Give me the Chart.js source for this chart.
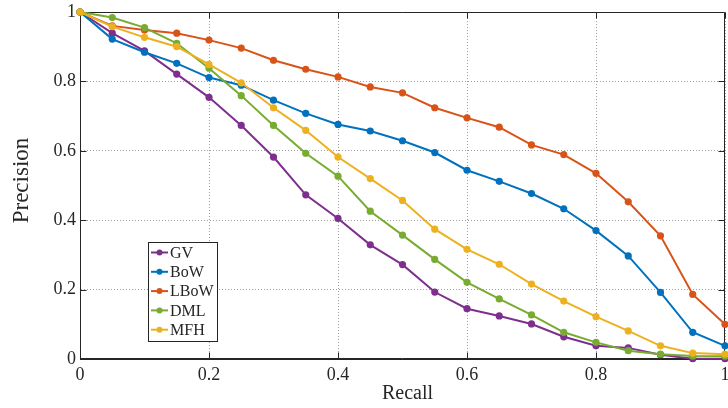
<!DOCTYPE html>
<html>
<head>
<meta charset="utf-8">
<script src="https://cdn.jsdelivr.net/npm/chart.js@4.4.1/dist/chart.umd.min.js"></script>
<style>
  html, body { margin: 0; padding: 0; background: #fff; overflow: hidden; }
  #wrap { position: relative; width: 745px; height: 408px; }
</style>
</head>
<body>
<div id="wrap"><canvas id="pr"></canvas></div>
<script>
// Recall sampling points and tick labels
const recall = [0, 0.05, 0.1, 0.15, 0.2, 0.25, 0.3, 0.35, 0.4, 0.45, 0.5,
                0.55, 0.6, 0.65, 0.7, 0.75, 0.8, 0.85, 0.9, 0.95, 1];
const recallTicks = ['0', '0.2', '0.4', '0.6', '0.8', '1'];
const precisionTicks = ['0', '0.2', '0.4', '0.6', '0.8', '1'];
const xTitle = 'Recall';
const yTitle = 'Precision';

// Precision per method
const seriesNames = ['GV', 'BoW', 'LBoW', 'DML', 'MFH'];
const gv   = [1, 0.939, 0.888, 0.821, 0.754, 0.673, 0.582, 0.473, 0.405, 0.329, 0.272,
              0.193, 0.145, 0.124, 0.101, 0.064, 0.038, 0.032, 0.012, 0.001, 0.001];
const bow  = [1, 0.922, 0.884, 0.852, 0.811, 0.789, 0.746, 0.708, 0.676, 0.657, 0.629,
              0.595, 0.544, 0.512, 0.477, 0.433, 0.370, 0.297, 0.192, 0.077, 0.038];
const lbow = [1, 0.960, 0.948, 0.939, 0.919, 0.896, 0.861, 0.835, 0.813, 0.784, 0.767,
              0.724, 0.695, 0.668, 0.617, 0.589, 0.535, 0.453, 0.355, 0.186, 0.100];
const dml  = [1, 0.984, 0.955, 0.910, 0.838, 0.759, 0.673, 0.593, 0.527, 0.426, 0.357,
              0.287, 0.221, 0.173, 0.127, 0.077, 0.048, 0.024, 0.014, 0.009, 0.008];
const mfh  = [1, 0.958, 0.927, 0.900, 0.849, 0.796, 0.724, 0.659, 0.582, 0.520, 0.457,
              0.374, 0.316, 0.273, 0.216, 0.167, 0.122, 0.081, 0.038, 0.017, 0.014];

const seriesValues = [gv, bow, lbow, dml, mfh];
const seriesColors = ['#7E2F8E', '#0072BD', '#D95319', '#77AC30', '#EDB120'];

const SERIF = "'Liberation Serif', 'Times New Roman', serif";
const AXIS = '#262626';

const datasets = seriesNames.map((name, i) => ({
  label: name,
  data: recall.map((r, k) => ({ x: r, y: seriesValues[i][k] })),
  borderColor: seriesColors[i],
  backgroundColor: seriesColors[i],
  pointBackgroundColor: seriesColors[i],
  pointBorderWidth: 0,
  pointRadius: 3.6,
  borderWidth: 2,
  tension: 0,
  clip: false,
  order: seriesNames.length - i
}));

// Box around the axes with inward tick marks on every side, plus axis titles
const axesFrame = {
  id: 'axesFrame',
  beforeDatasetsDraw(chart) {
    const { ctx, chartArea: a, scales: { x, y } } = chart;
    ctx.save();
    ctx.strokeStyle = AXIS;
    ctx.lineWidth = 1;
    const L = Math.round(a.left) + 0.5, R = Math.round(a.right) - 0.5;
    const T = Math.round(a.top) + 0.5, B = Math.round(a.bottom) - 0.5;
    ctx.beginPath();
    ctx.moveTo(L, T); ctx.lineTo(R, T); ctx.lineTo(R, B);
    ctx.moveTo(L, T); ctx.lineTo(L, B); ctx.lineTo(R, B);
    const len = 6;
    x.ticks.forEach(t => {
      const px = Math.round(x.getPixelForValue(t.value)) + 0.5;
      ctx.moveTo(px, B); ctx.lineTo(px, B - len);
      ctx.moveTo(px, T); ctx.lineTo(px, T + len);
    });
    y.ticks.forEach(t => {
      const py = Math.round(y.getPixelForValue(t.value)) + 0.5;
      ctx.moveTo(L, py); ctx.lineTo(L + len, py);
      ctx.moveTo(R, py); ctx.lineTo(R - len, py);
    });
    ctx.stroke();

    // axis titles
    ctx.fillStyle = AXIS;
    ctx.textAlign = 'center';
    ctx.textBaseline = 'alphabetic';
    ctx.font = '20px ' + SERIF;
    ctx.fillText(xTitle, (a.left + a.right) / 2 + 5, a.bottom + 40);
    ctx.save();
    ctx.translate(a.left - 52, (a.top + a.bottom) / 2 - 5);
    ctx.rotate(-Math.PI / 2);
    ctx.font = '23px ' + SERIF;
    ctx.fillText(yTitle, 0, 0);
    ctx.restore();
    ctx.restore();
  }
};

// Boxed legend inside the plot area
const boxLegend = {
  id: 'boxLegend',
  afterDatasetsDraw(chart) {
    const { ctx, chartArea: a } = chart;
    const left = a.left + 68, top = a.top + 230;
    const w = 69, rowH = 19.3, h = 99;
    ctx.save();
    ctx.fillStyle = '#fff';
    ctx.fillRect(left, top, w, h);
    ctx.strokeStyle = AXIS;
    ctx.lineWidth = 1;
    ctx.strokeRect(Math.round(left) + 0.5, Math.round(top) + 0.5, w, h);
    ctx.font = '16px ' + SERIF;
    ctx.textBaseline = 'middle';
    ctx.textAlign = 'left';
    chart.data.datasets.forEach((ds, i) => {
      const cy = top + 10.5 + i * rowH;
      ctx.strokeStyle = ds.borderColor;
      ctx.lineWidth = 2;
      ctx.beginPath();
      ctx.moveTo(left + 3, cy); ctx.lineTo(left + 20, cy);
      ctx.stroke();
      ctx.fillStyle = ds.borderColor;
      ctx.beginPath();
      ctx.arc(left + 11.5, cy, 3, 0, Math.PI * 2);
      ctx.fill();
      ctx.fillStyle = AXIS;
      ctx.fillText(ds.label, left + 22, cy + 1);
    });
    ctx.restore();
  }
};

new Chart(document.getElementById('pr'), {
  type: 'line',
  data: { datasets },
  plugins: [axesFrame, boxLegend],
  options: {
    responsive: true,
    maintainAspectRatio: false,
    animation: false,
    layout: { padding: { left: 0, right: 20, top: 12, bottom: 0 } },
    plugins: { legend: { display: false }, tooltip: { enabled: false } },
    scales: {
      x: {
        type: 'linear', min: 0, max: 1,
        afterFit(s) { s.height = 49; s.paddingLeft = 0; s.paddingRight = 0; },
        ticks: {
          stepSize: 0.2, padding: 5, color: AXIS, maxRotation: 0,
          font: { family: SERIF, size: 18 },
          callback: (v, i) => recallTicks[i]
        },
        grid: { color: 'rgba(0,0,0,0.38)', lineWidth: 1, drawTicks: false },
        border: { display: true, color: AXIS, width: 1, dash: [1, 2] }
      },
      y: {
        type: 'linear', min: 0, max: 1,
        afterFit(s) { s.width = 80; s.paddingTop = 0; s.paddingBottom = 0; },
        ticks: {
          stepSize: 0.2, padding: 4, color: AXIS,
          font: { family: SERIF, size: 18 },
          callback: (v, i) => precisionTicks[i]
        },
        grid: { color: 'rgba(0,0,0,0.38)', lineWidth: 1, drawTicks: false },
        border: { display: true, color: AXIS, width: 1, dash: [1, 2] }
      }
    }
  }
});
</script>
</body>
</html>
